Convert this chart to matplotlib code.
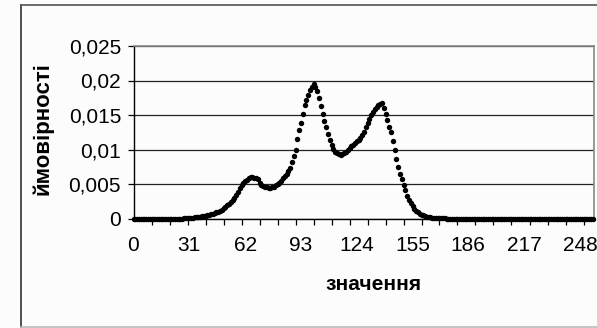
import matplotlib
matplotlib.use("Agg")
import matplotlib.pyplot as plt
from matplotlib.lines import Line2D

plt.rcParams['font.family'] = ['Liberation Sans', 'DejaVu Sans']

# categories 0..255
categories = list(range(256))

# estimated probabilities (categories 28..173), zero elsewhere
core_start = 28
core_values = [
    0.00002, 0.00003, 0.00005, 0.00007, 0.0001, 0.00012, 0.00015, 0.00018,   # 28-35
    0.00022, 0.00026, 0.0003, 0.00035, 0.0004, 0.00046, 0.00053, 0.0006,     # 36-43
    0.0007, 0.0008, 0.0009, 0.001, 0.00115, 0.0013, 0.0015, 0.0017,          # 44-51
    0.0019, 0.0021, 0.0024, 0.0027, 0.003, 0.0034, 0.0039, 0.0044,           # 52-59
    0.0049, 0.0052, 0.0054, 0.0056, 0.0058, 0.006, 0.006, 0.0059,            # 60-67
    0.0058, 0.0057, 0.0052, 0.0049, 0.0047, 0.0046, 0.0045, 0.0044,          # 68-75
    0.0044, 0.0045, 0.0046, 0.0048, 0.005, 0.0052, 0.0055, 0.0058,           # 76-83
    0.0062, 0.0065, 0.0069, 0.0073, 0.0082, 0.0091, 0.01, 0.0115,            # 84-91
    0.0128, 0.0138, 0.0152, 0.0165, 0.0172, 0.0179, 0.0186, 0.019,           # 92-99
    0.0195, 0.019, 0.0185, 0.0174, 0.0163, 0.0152, 0.0142, 0.0132,           # 100-107
    0.0122, 0.0114, 0.0107, 0.0101, 0.0097, 0.0095, 0.0093, 0.0092,          # 108-115
    0.0093, 0.0095, 0.0097, 0.0099, 0.0102, 0.0105, 0.0107, 0.011,           # 116-123
    0.0112, 0.0114, 0.0117, 0.0121, 0.0126, 0.0132, 0.0138, 0.0144,          # 124-131
    0.015, 0.0155, 0.0159, 0.0162, 0.0164, 0.0166, 0.0167, 0.016,            # 132-139
    0.0152, 0.0143, 0.0133, 0.0125, 0.0112, 0.0099, 0.0086, 0.0075,          # 140-147
    0.0065, 0.0057, 0.0049, 0.0041, 0.0033, 0.0027, 0.0022, 0.0018,          # 148-155
    0.0014, 0.0011, 0.0009, 0.0007, 0.00055, 0.00045, 0.00035, 0.00028,      # 156-163
    0.00022, 0.00017, 0.00013, 0.0001, 0.00008, 0.00006, 0.00004, 0.00003,   # 164-171
    0.00002, 0.00001,                                                        # 172-173
]
values = [0.0] * core_start + core_values
values = values + [0.0] * (len(categories) - len(values))

x_tick_labels = ["0", "31", "62", "93", "124", "155", "186", "217", "248"]
x_tick_pos = [0, 31, 62, 93, 124, 155, 186, 217, 248]
y_ticks = [0, 0.005, 0.01, 0.015, 0.02, 0.025]
y_tick_labels = ["0", "0,005", "0,01", "0,015", "0,02", "0,025"]

W, H = 597, 328
fig = plt.figure(figsize=(W / 100, H / 100), dpi=100)
fig.patch.set_facecolor('#fcfcfc')

# outer chart frame (clipped at the right edge)
fig.add_artist(Line2D([20.5 / W, 20.5 / W], [1 - 5 / H, 1 - 327 / H], color='#333333', lw=1.2))
fig.add_artist(Line2D([20.5 / W, 1.0], [1 - 5 / H, 1 - 5 / H], color='#555555', lw=1.2))
fig.add_artist(Line2D([20.5 / W, 1.0], [1 - 327 / H, 1 - 327 / H], color='#bbbbbb', lw=1.2))

left, right, top, bottom = 133.5, 594.3, 46, 218.5
ax = fig.add_axes([left / W, 1 - bottom / H, (right - left) / W, (bottom - top) / H])
ax.set_facecolor('#fcfcfc')

ax.plot(categories, values, linestyle='none', marker='o', markersize=3.9,
        color='black', markeredgewidth=0, clip_on=False, zorder=3)

ax.set_xlim(0, 256)
ax.set_ylim(0, 0.025)

ax.set_yticks(y_ticks)
ax.set_yticklabels(y_tick_labels)
ax.yaxis.grid(True, color='#222222', lw=0.9)
ax.set_axisbelow(True)

ax.set_xticks(x_tick_pos)
ax.set_xticklabels(x_tick_labels)
ax.set_xticks(list(range(0, 251, 10)), minor=True)
ax.tick_params(axis='x', which='major', length=0, pad=12.5, labelsize=15)
ax.tick_params(axis='x', which='minor', length=4, width=0.9, direction='out', color='black')
ax.tick_params(axis='y', length=4, width=0.9, direction='out', pad=5, labelsize=15)

for s in ['left', 'bottom']:
    ax.spines[s].set_color('black')
    ax.spines[s].set_linewidth(1.0)
for s in ['top', 'right']:
    ax.spines[s].set_color('#888888')
    ax.spines[s].set_linewidth(1.2)

fig.text(373 / W, 1 - 285 / H, 'значення', ha='center', va='center',
         fontsize=15, fontweight='bold')
fig.text(42.5 / W, 1 - 129 / H, 'ймовірності', ha='center', va='center',
         rotation=90, fontsize=16, fontweight='bold')

fig.savefig('out.png', dpi=100, facecolor=fig.get_facecolor())
